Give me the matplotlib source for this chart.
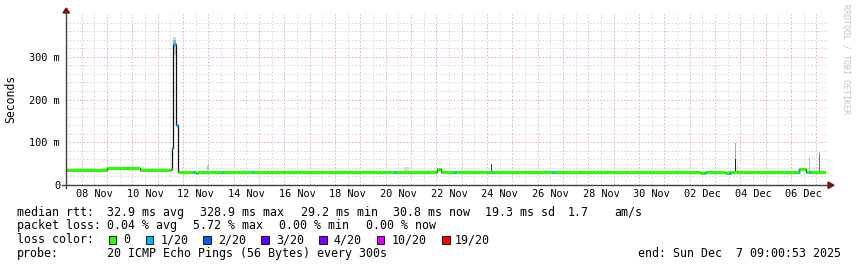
import numpy as np
import pandas as pd
import matplotlib
matplotlib.use("Agg")
import matplotlib.pyplot as plt
import matplotlib.dates as mdates
from matplotlib.patches import Rectangle, Polygon

# time range of the graph
t_start = "2025-11-07 09:00:53"
t_end = "2025-12-07 09:00:53"

# median rtt, step segments (start time, ms, loss level index)
seg_start = ["2025-11-07 09:00", "2025-11-08 23:30", "2025-11-10 07:00",
             "2025-11-11 12:30", "2025-11-11 13:30", "2025-11-11 14:20",
             "2025-11-11 17:30", "2025-11-11 18:50", "2025-11-12 12:10",
             "2025-11-12 13:40", "2025-11-20 07:45", "2025-11-20 17:10",
             "2025-11-22 00:30", "2025-11-22 04:30", "2025-12-02 09:45",
             "2025-12-02 14:30", "2025-12-03 09:00", "2025-12-03 13:30",
             "2025-12-03 21:30", "2025-12-04 01:30", "2025-12-06 07:00",
             "2025-12-06 13:40", "2025-12-06 15:00"]
seg_ms = [34.4, 39.0, 35.0, 37.0, 87.0, 329.0, 141.0, 30.4, 29.2, 30.4,
          29.5, 30.4, 36.5, 30.4, 29.0, 30.4, 29.0, 30.4, 29.3, 30.4,
          37.5, 29.5, 30.8]
seg_loss = [0, 0, 0, 0, 1, 1, 1, 0, 0, 0, 0, 0, 0, 0, 0, 0, 0, 0, 0, 0, 0, 0, 0]

# bins with 1/20 loss along the baseline
loss1_t = ["2025-11-12 09:40", "2025-11-13 12:30", "2025-11-14 16:55",
           "2025-11-20 07:45", "2025-11-22 16:40", "2025-11-24 04:30",
           "2025-11-26 13:30", "2025-12-02 14:00", "2025-12-03 13:10",
           "2025-12-06 06:30", "2025-12-06 17:00"]

# smoke (ping spread) blocks
smoke_t0 = ["2025-11-11 14:20", "2025-11-11 14:20", "2025-11-12 23:00",
            "2025-11-20 17:00", "2025-11-24 03:30", "2025-12-03 19:00",
            "2025-12-03 19:00", "2025-12-03 20:30", "2025-12-06 16:30",
            "2025-12-07 02:00", "2025-12-07 02:00"]
smoke_t1 = ["2025-11-11 17:30", "2025-11-11 17:30", "2025-11-13 00:30",
            "2025-11-20 22:00", "2025-11-24 04:30", "2025-12-03 20:00",
            "2025-12-03 20:00", "2025-12-03 22:00", "2025-12-06 17:30",
            "2025-12-07 03:00", "2025-12-07 03:00"]
smoke_lo = [305, 322, 31, 32, 31, 60, 31, 31, 31, 70, 31]
smoke_hi = [347, 340, 47, 41, 48, 99, 61, 47, 65, 77, 70]
smoke_shade = ["#d4d4d4", "#a8a8a8", "#c8c8c8", "#d8d8d8", "#404040",
               "#a8a8a8", "#202020", "#c8c8c8", "#c0c0c0", "#b0b0b0", "#707070"]

loss_labels = ["0", "1/20", "2/20", "3/20", "4/20", "10/20", "19/20"]
loss_colors = ["#26ff00", "#00b8ff", "#0059ff", "#5e00ff", "#7e00ff", "#dd00ff", "#ff0000"]

y_ticks = [0, 100, 200, 300]
y_ticklabels = ["0", "100 m", "200 m", "300 m"]

W, H = 857, 267
def fx(px):
    return px / W
def fy(py):
    return 1 - py / H
def num(ts):
    return mdates.date2num(pd.to_datetime(ts))

mono = "DejaVu Sans Mono"
fig = plt.figure(figsize=(W / 100, H / 100), dpi=100)
ax = fig.add_axes([fx(66), fy(185), (826 - 66) / W, (185 - 14) / H])

x0, x1 = num(t_start), num(t_end)
ax.set_xlim(x0, x1)
ax.set_ylim(0, 400)
for s in ax.spines.values():
    s.set_visible(False)

# grid
dots = (0, (1.4, 2.0))
for v in np.arange(20, 400, 20):
    col = "#eeaaaa" if v % 100 == 0 else "#d4d4d4"
    ax.axhline(v, color=col, lw=0.72, ls=dots, zorder=0)
for d in pd.date_range("2025-11-07 12:00", t_end, freq="12h"):
    col = "#eeaaaa" if d.hour == 0 else "#d4d4d4"
    ax.axvline(num(d), color=col, lw=0.72, ls=dots, zorder=0)

# ticks
lab_days = pd.date_range("2025-11-08 12:00", "2025-12-06 12:00", freq="2D")
ax.set_xticks(num(lab_days))
ax.set_xticklabels([d.strftime("%d %b") for d in lab_days], family=mono, fontsize=7.4)
ax.set_yticks(y_ticks)
ax.set_yticklabels(y_ticklabels, family=mono, fontsize=7.4)
ax.tick_params(length=0)
ax.tick_params(axis="x", pad=3.2)
ax.tick_params(axis="y", pad=4.3)

# smoke
st0, st1 = num(smoke_t0), num(smoke_t1)
ax.bar(st0, np.array(smoke_hi) - np.array(smoke_lo), bottom=smoke_lo,
       width=st1 - st0, align="edge", color=smoke_shade, lw=0, zorder=1)

# median
ss = num(seg_start)
se = np.append(ss[1:], x1)
ax.plot(np.append(ss, x1), np.append(seg_ms, seg_ms[-1]), drawstyle="steps-post",
        color="#101010", lw=0.9, zorder=2)
ax.hlines(seg_ms, ss, se, colors=[loss_colors[i] for i in seg_loss], lw=2.2, zorder=3)
lt = num(loss1_t)
idx = np.searchsorted(ss, lt, side="right") - 1
ax.hlines(np.array(seg_ms)[idx], lt, lt + 1.5 / 24, colors=loss_colors[1], lw=2.2, zorder=4)

# axes with arrows
ax_col = "#404040"
arr_col = "#7f1010"
fig.add_artist(plt.Line2D([fx(66), fx(66)], [fy(188), fy(12)], color=ax_col, lw=1.0))
fig.add_artist(plt.Line2D([fx(62), fx(828)], [fy(185), fy(185)], color=ax_col, lw=1.0))
fig.add_artist(Polygon([(fx(63), fy(13)), (fx(69.5), fy(13)), (fx(66.2), fy(8))],
                       closed=True, color=arr_col, transform=fig.transFigure))
fig.add_artist(Polygon([(fx(828), fy(182)), (fx(828), fy(188.5)), (fx(834), fy(185.2))],
                       closed=True, color=arr_col, transform=fig.transFigure))

fig.text(fx(10.5), fy(99), "Seconds", rotation=90, ha="center", va="center",
         family=mono, fontsize=8.3)
fig.text(fx(846), fy(59), "RRDTOOL / TOBI OETIKER", rotation=-90, ha="center",
         va="center", family=mono, fontsize=6, color="#c4c4c4")

# legend
fs = 8.34
row1 = [("median rtt:", 16.7), ("32.9 ms avg", 107.3), ("328.9 ms max", 200),
        ("29.2 ms min", 300.7), ("30.8 ms now", 393.3), ("19.3 ms sd", 485),
        ("1.7", 568), ("am/s", 614.3)]
row2 = [("packet loss:", 16.7), ("0.04 % avg", 107.3), ("5.72 % max", 193.3),
        ("0.00 % min", 279.3), ("0.00 % now", 365.7)]
row4 = [("probe:", 16.7), ("20 ICMP Echo Pings (56 Bytes) every 300s", 107.3),
        ("end: Sun Dec  7 09:00:53 2025", 638.3)]
for row, base in [(row1, 215.6), (row2, 229.4), (row4, 257.2)]:
    for s, px in row:
        fig.text(fx(px), fy(base), s, family=mono, fontsize=fs, va="baseline")

fig.text(fx(16.7), fy(243.2), "loss color:", family=mono, fontsize=fs, va="baseline")
box_x = [108.7, 145.7, 203, 261, 319, 376.7, 442]
lab_x = [123, 160.7, 218, 276, 333.7, 391.7, 455]
for c, lab, bx, lx in zip(loss_colors, loss_labels, box_x, lab_x):
    fig.add_artist(Rectangle((fx(bx), fy(243.5)), 7.5 / W, 8 / H, facecolor=c,
                             edgecolor="black", lw=0.6, transform=fig.transFigure))
    fig.text(fx(lx), fy(243.2), lab, family=mono, fontsize=fs, va="baseline")

fig.savefig("out.png", dpi=100)
